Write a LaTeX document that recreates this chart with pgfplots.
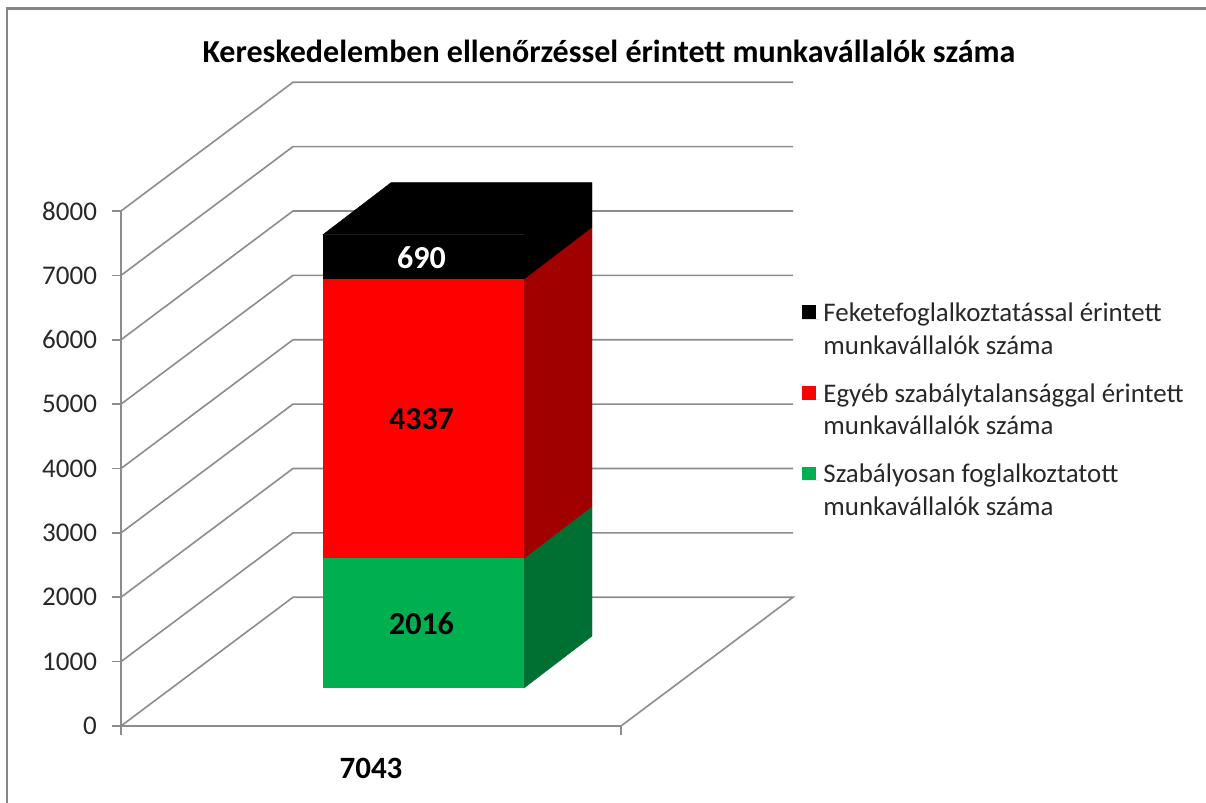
\documentclass[border=0pt]{standalone}
\usepackage{fontspec}
\setmainfont{Carlito}
\usepackage{pgfplots}
\pgfplotsset{compat=1.18}
\definecolor{wall}{RGB}{140,140,140}
\definecolor{frameg}{RGB}{134,134,134}
\definecolor{txt}{RGB}{40,40,40}
\definecolor{gr}{RGB}{0,176,80}
\definecolor{grd}{RGB}{0,112,50}
\definecolor{rd}{RGB}{255,0,0}
\definecolor{rdd}{RGB}{160,0,0}
% 1 px of the reference = 0.5pt; x axis runs in px, y axis in persons (0.0644 px each)
\pgfplotsset{
  base/.style={
    scale only axis, width=250pt, height=257.5pt,
    xmin=121, xmax=621, ymin=0, ymax=8000, clip=false,
    /pgf/number format/assume math mode=true,
  },
  wallline/.style={wall, line width=0.8pt, forget plot},
}
\begin{document}
\begin{tikzpicture}
\useasboundingbox (-60.5pt,-38.5pt) rectangle (542.5pt,363pt);
\begin{axis}[base,
  axis x line=bottom, axis y line=left,
  axis line style={wall,-,line width=0.8pt},
  tick style={wall,line width=0.8pt}, tick align=outside, major tick length=4.5pt,
  xtick={121,621}, xticklabels={},
  extra x ticks={371}, extra x tick labels={\textbf{7043}},
  extra x tick style={major tick length=0pt, tick label style={font=\fontsize{15.5}{17}\selectfont, yshift=-12.5pt}},
  ytick={0,1000,...,8000},
  y tick label style={/pgf/number format/1000 sep={}, font=\fontsize{13.5}{15}\selectfont, text=txt, xshift=-4pt},
  title={\textbf{Kereskedelemben ellenőrzéssel érintett munkavállalók száma}},
  title style={at={(0.976,1.286)}, anchor=center, yshift=0pt, font=\fontsize{16}{19}\selectfont},
]
% frame
\addplot[frameg, line width=1.2pt, forget plot] coordinates {(7,-1196) (7,11148) (1206,11148)};
% floor and walls
\addplot[wallline] coordinates {(121,0) (293,2000) (793,2000) (621,0)};
\addplot[wallline] coordinates {(121,1000) (293,3000) (793,3000)};
\addplot[wallline] coordinates {(121,2000) (293,4000) (793,4000)};
\addplot[wallline] coordinates {(121,3000) (293,5000) (793,5000)};
\addplot[wallline] coordinates {(121,4000) (293,6000) (793,6000)};
\addplot[wallline] coordinates {(121,5000) (293,7000) (793,7000)};
\addplot[wallline] coordinates {(121,6000) (293,8000) (793,8000)};
\addplot[wallline] coordinates {(121,7000) (293,9000) (793,9000)};
\addplot[wallline] coordinates {(121,8000) (293,10000) (793,10000)};
% side and top faces of the bar
\addplot[fill=grd, draw=grd, line width=0.2pt, forget plot] coordinates {(524,590) (592,1397) (592,3413) (524,2606)} -- cycle;
\addplot[fill=rdd, draw=rdd, line width=0.2pt, forget plot] coordinates {(524,2606) (592,3413) (592,7750) (524,6943)} -- cycle;
\addplot[fill=black, draw=black, line width=0.2pt, forget plot] coordinates {(524,6943) (592,7750) (592,8440) (391,8440) (323,7633) (524,7633)} -- cycle;
\end{axis}
\begin{axis}[base, hide axis,
  ybar stacked, bar width=100.5pt,
  reverse legend,
  legend style={draw=none, fill=none, at={(1.35,0.838)}, anchor=north west,
    font=\fontsize{13.45}{16.25}\selectfont, text=txt, cells={align=left, anchor=west},
    row sep=9.25pt},
  legend image code/.code={\fill[#1] (0pt,5.4pt) rectangle (7pt,12.25pt); \path (0pt,5.4pt) -- (8.5pt,5.4pt);},
  after end axis/.code={
    \node[font=\fontsize{16}{18}\selectfont\bfseries] at (axis cs:421.5,1583) {2016};
    \node[font=\fontsize{16}{18}\selectfont\bfseries] at (axis cs:421.5,4760) {4337};
    \node[font=\fontsize{16}{18}\selectfont\bfseries, white] at (axis cs:421.5,7273) {690};
  },
]
\addplot[draw=none, fill=none, forget plot] coordinates {(423.5,590)};
\addplot[draw=none, fill=gr] coordinates {(423.5,2016)};
\addplot[draw=none, fill=rd] coordinates {(423.5,4337)};
\addplot[draw=none, fill=black] coordinates {(423.5,690)};
\legend{{Szabályosan foglalkoztatott\\munkavállalók száma},{Egyéb szabálytalansággal érintett\\munkavállalók száma},{Feketefoglalkoztatással érintett\\munkavállalók száma}}
\end{axis}
\end{tikzpicture}
\end{document}
